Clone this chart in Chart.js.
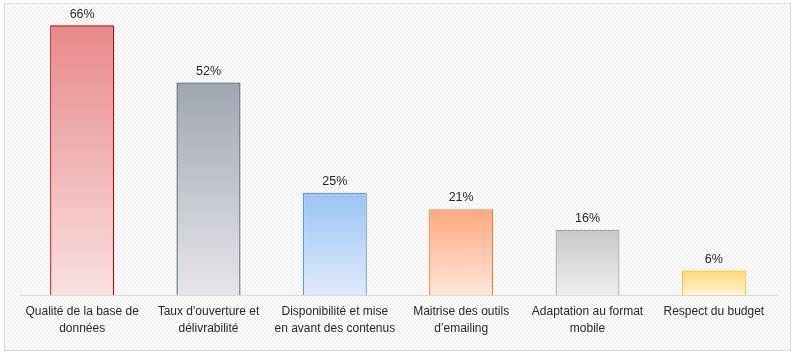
<!DOCTYPE html>
<html>
<head>
<meta charset="utf-8">
<script src="https://cdn.jsdelivr.net/npm/chart.js@4/dist/chart.umd.min.js"></script>
<style>
html,body{margin:0;padding:0;background:#fff;}
#wrap{width:797px;height:356px;position:relative;}
</style>
</head>
<body>
<div id="wrap"><canvas id="c" width="797" height="356"></canvas></div>
<script>
const categories = [
  ["Qualité de la base de", "données"],
  ["Taux d'ouverture et", "délivrabilité"],
  ["Disponibilité et mise", "en avant des contenus"],
  ["Maitrise des outils", "d’emailing"],
  ["Adaptation au format", "mobile"],
  ["Respect du budget"]
];
const values = [66, 52, 25, 21, 16, 6];
const valueLabels = ["66%", "52%", "25%", "21%", "16%", "6%"];

const topColors = ["#e8898a", "#a0a6b2", "#9cc3f5", "#ffa77f", "#c8c8c8", "#ffd878"];
const bottomColors = ["#f9e0e0", "#e5e6e9", "#dfeafb", "#ffe6da", "#eeeeee", "#fff4d8"];
const borderColors = ["#c00000", "#44546a", "#5b9bd5", "#ed7d31", "#a5a5a5", "#ffc000"];

function makePattern(ctx){
  const p = document.createElement('canvas');
  p.width = 4; p.height = 4;
  const g = p.getContext('2d');
  g.fillStyle = '#ffffff';
  g.fillRect(0,0,4,4);
  g.fillStyle = '#e6e6e6';
  for(let i=0;i<4;i++){ g.fillRect(i,i,1,1); }
  return ctx.createPattern(p,'repeat');
}

const bgPlugin = {
  id: 'bg',
  beforeDraw(chart){
    const ctx = chart.ctx;
    ctx.save();
    ctx.fillStyle = '#ffffff';
    ctx.fillRect(0,0,chart.width,chart.height);
    ctx.fillStyle = makePattern(ctx);
    ctx.fillRect(4,3,787,348);
    ctx.strokeStyle = '#d9d9d9';
    ctx.lineWidth = 1;
    ctx.strokeRect(4.5,3.5,786,347);
    ctx.restore();
  }
};

const labelPlugin = {
  id: 'vlabels',
  afterDatasetsDraw(chart){
    const ctx = chart.ctx;
    const meta = chart.getDatasetMeta(0);
    ctx.save();
    ctx.font = '12.5px "Liberation Sans", Arial, sans-serif';
    ctx.fillStyle = '#262626';
    ctx.textAlign = 'center';
    ctx.textBaseline = 'bottom';
    meta.data.forEach((bar, i) => {
      ctx.fillText(valueLabels[i], bar.x, bar.y - 5);
    });
    ctx.restore();
  }
};

function grad(context){
  const chart = context.chart;
  const i = context.dataIndex;
  const area = chart.chartArea;
  if(!area || i === undefined) return topColors[i] || '#ccc';
  const y = chart.scales.y;
  const top = y.getPixelForValue(values[i]);
  const bottom = y.getPixelForValue(0);
  const g = chart.ctx.createLinearGradient(0, top, 0, bottom);
  g.addColorStop(0, topColors[i]);
  g.addColorStop(1, bottomColors[i]);
  return g;
}

new Chart(document.getElementById('c'), {
  type: 'bar',
  data: {
    labels: categories,
    datasets: [{
      data: values,
      backgroundColor: grad,
      borderColor: borderColors,
      borderWidth: 1.3,
      borderSkipped: 'bottom',
      categoryPercentage: 1,
      barPercentage: 0.507
    }]
  },
  options: {
    responsive: false,
    animation: false,
    devicePixelRatio: 1,
    layout: { padding: { left: 19, right: 20, top: 9, bottom: 0 } },
    plugins: { legend: { display: false }, tooltip: { enabled: false } },
    scales: {
      x: {
        grid: { display: false, drawTicks: false },
        border: { display: true, color: '#d9d9d9', width: 1 },
        ticks: {
          color: '#262626',
          font: { family: '"Liberation Sans", Arial, sans-serif', size: 12, lineHeight: 1.35 },
          padding: 9,
          maxRotation: 0,
          autoSkip: false
        },
        afterFit(scale){ scale.height = 61; }
      },
      y: {
        display: false,
        min: 0,
        max: 70
      }
    }
  },
  plugins: [bgPlugin, labelPlugin]
});
</script>
</body>
</html>
